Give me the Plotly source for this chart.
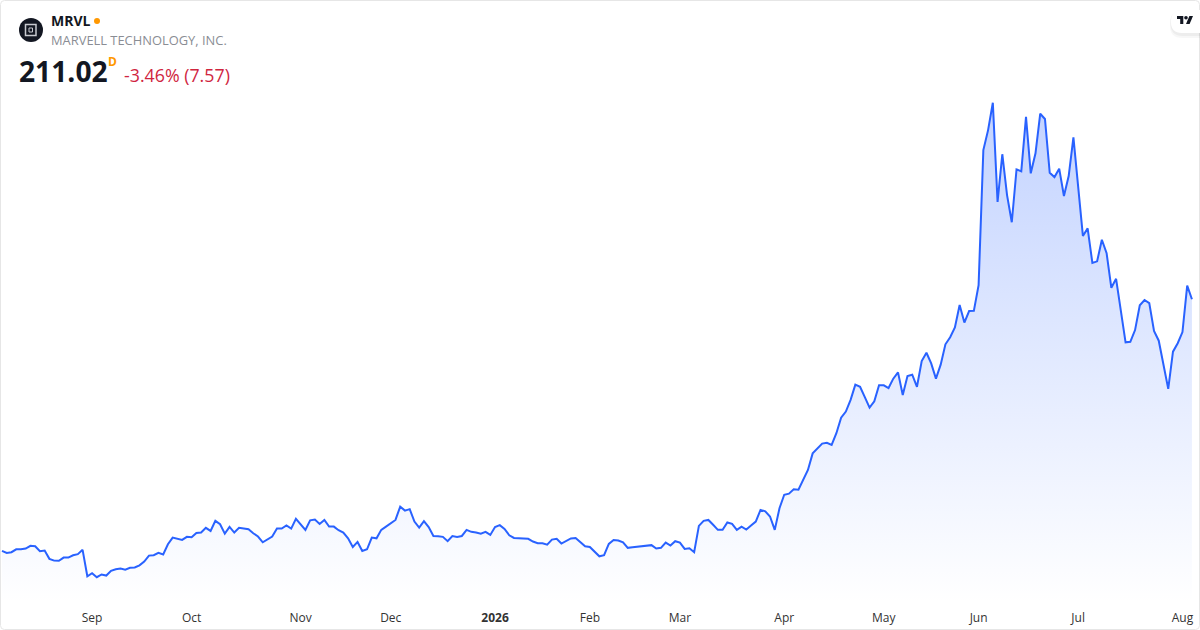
# MRVL one year area chart, trading days on the x axis
import plotly.graph_objects as go

# closing prices
prices = [
    71.2, 70.1, 70.5, 72.1, 72.1, 72.5, 74.0, 73.8, 71.0, 71.4,
    66.8, 65.8, 65.7, 67.5, 67.5, 68.8, 69.4, 71.8, 57.1, 58.8,
    56.6, 58.1, 57.5, 60.1, 61.0, 61.4, 60.8, 61.8, 62.0, 63.2,
    65.3, 68.6, 68.8, 70.1, 69.2, 74.9, 78.6, 78.1, 77.3, 79.0,
    78.8, 81.2, 81.4, 84.0, 82.3, 87.9, 86.0, 80.8, 84.5, 81.4,
    84.0, 83.6, 83.2, 81.0, 79.2, 76.0, 77.7, 79.2, 83.6, 83.6,
    85.3, 83.6, 89.0, 85.8, 82.9, 88.2, 88.6, 86.2, 88.4, 84.7,
    84.7, 82.7, 81.4, 78.2, 73.4, 76.2, 71.2, 72.1, 78.6, 78.2,
    82.9, 84.7, 86.6, 88.4, 95.8, 93.6, 94.4, 87.5, 84.2, 87.7,
    84.4, 79.5, 79.4, 79.0, 76.6, 79.5, 79.0, 79.5, 82.9, 81.8,
    81.4, 80.8, 81.8, 80.1, 84.5, 85.5, 83.4, 79.9, 78.4, 78.1,
    77.9, 77.9, 76.4, 75.5, 75.5, 74.7, 77.5, 77.9, 75.3, 76.8,
    78.1, 78.4, 76.2, 73.8, 73.4, 70.5, 68.2, 68.8, 75.1, 77.3,
    77.0, 76.0, 72.9, 73.2, 73.6, 73.8, 74.4, 74.4, 72.5, 72.9,
    75.8, 74.2, 76.6, 75.8, 72.3, 72.7, 70.5, 85.1, 87.9, 88.4,
    85.7, 82.9, 82.9, 87.0, 86.2, 82.9, 84.7, 83.1, 85.3, 87.5,
    94.0, 93.2, 90.3, 82.9, 94.9, 102.4, 103.0, 105.4, 105.2, 110.6,
    116.2, 125.4, 128.0, 130.8, 131.3, 130.1, 136.6, 145.2, 148.6, 155.1,
    163.6, 162.4, 156.6, 150.8, 154.3, 163.2, 163.2, 161.7, 166.9, 170.4,
    157.8, 168.4, 169.1, 162.4, 176.7, 181.3, 175.4, 166.9, 174.7, 186.0,
    189.9, 195.4, 207.8, 198.1, 204.5, 204.6, 218.9, 293.9, 305.0, 320.2,
    265.1, 291.6, 268.9, 253.8, 283.2, 282.1, 312.4, 281.0, 292.1, 314.1,
    311.2, 281.3, 278.9, 283.6, 268.4, 279.5, 301.0, 274.5, 246.2, 250.4,
    231.2, 232.1, 244.1, 236.6, 217.4, 222.4, 206.0, 187.1, 187.4, 193.9,
    207.7, 210.6, 208.9, 193.4, 188.0, 173.6, 161.2, 181.9, 186.6, 192.8,
    218.59, 211.02,
]
days = list(range(len(prices)))

# first trading day of each month
tick_days = [19, 40, 63, 82, 104, 124, 143, 165, 186, 206, 227, 249]
tick_labels = ["Sep", "Oct", "Nov", "Dec", "<b>2026</b>", "Feb", "Mar", "Apr", "May", "Jun", "Jul", "Aug"]

BLUE = "#2962ff"
FONT = "Open Sans"
W, H, BOTTOM = 1200, 630, 26
PLOT_H = H - BOTTOM


# helpers: window pixels to paper fractions
def px(x):
    return x / W


def py(y):
    return (PLOT_H - y) / PLOT_H


def pt(x, y):
    return f"{px(x)} {py(y)}"


def poly(points):
    return "M" + " L".join(pt(x, y) for x, y in points) + " Z"


def round_rect(x0, y0, x1, y1, r):
    return (f"M{pt(x0 + r, y0)} L{pt(x1 - r, y0)} Q{pt(x1, y0)} {pt(x1, y0 + r)} L{pt(x1, y1 - r)} "
            f"Q{pt(x1, y1)} {pt(x1 - r, y1)} L{pt(x0 + r, y1)} Q{pt(x0, y1)} {pt(x0, y1 - r)} "
            f"L{pt(x0, y0 + r)} Q{pt(x0, y0)} {pt(x0 + r, y0)} Z")


def path(d, **kw):
    return dict(type="path", xref="paper", yref="paper", path=d, **kw)


def rect(x0, y0, x1, y1, **kw):
    return dict(type="rect", xref="paper", yref="paper", x0=px(x0), y0=py(y0), x1=px(x1), y1=py(y1), **kw)


def circle(cx, cy, r, color):
    return dict(type="circle", xref="paper", yref="paper", x0=px(cx - r), y0=py(cy - r), x1=px(cx + r), y1=py(cy + r),
                fillcolor=color, line_width=0)


def label(x, y, text, size, color, **kw):
    return dict(xref="paper", yref="paper", x=px(x), y=py(y), text=text, showarrow=False, xanchor="left",
                yanchor="middle", font=dict(family=FONT, size=size, color=color), **kw)


fig = go.Figure(go.Scatter(
    x=days, y=prices, mode="lines", fill="tozeroy",
    line=dict(color=BLUE, width=2),
    fillgradient=dict(type="vertical", start=41.7, stop=320.2,
                      colorscale=[[0, "rgba(41,98,255,0)"], [1, "rgba(41,98,255,0.28)"]]),
    hoverinfo="skip",
))

shapes = [
    # outer frame
    path(round_rect(0.5, 0.5, 1199.5, 629.5, 4), line=dict(color="#e6e6e6", width=1)),
    # ticker logo
    circle(31, 30, 12, "#131722"),
    rect(25.5, 24.5, 36, 35.5, line=dict(color="#c8cad0", width=1.5)),
    rect(29, 28, 32.5, 32, line=dict(color="#c8cad0", width=1)),
    # status dot
    circle(97, 21, 3, "#ff9800"),
    # TV badge, soft shadow then pill
    path(round_rect(1170, 11, 1212, 38, 12), fillcolor="rgba(0,0,0,0.03)", line_width=0),
    path(round_rect(1170.5, 10, 1212, 36, 12), fillcolor="rgba(0,0,0,0.04)", line_width=0),
    path(round_rect(1171, 10, 1212, 33, 11), fillcolor="#ffffff", line_width=0),
    path(poly([(1177, 16), (1183.3, 16), (1183.3, 24), (1180.2, 24), (1180.2, 19.1), (1177, 19.1)]),
         fillcolor="#131722", line_width=0),
    path(poly([(1189.4, 16), (1193, 16), (1189.6, 24), (1186, 24)]), fillcolor="#131722", line_width=0),
    circle(1186, 17.8, 1.8, "#131722"),
]

annotations = [
    label(49, 20.5, "<b>MRVL</b>", 14, "#131722"),
    label(49, 40.5, "MARVELL TECHNOLOGY, INC.", 12.9, "#8a8d94"),
    label(17, 70.5, "<b>211.02</b>", 28.2, "#131722"),
    label(106, 61, "<b>D</b>", 12, "#ff9800"),
    label(122, 74.5, "-3.46% (7.57)", 17.8, "#d0263f"),
]

fig.update_layout(
    width=W, height=H,
    margin=dict(l=0, r=0, t=0, b=BOTTOM),
    paper_bgcolor="#ffffff", plot_bgcolor="#ffffff",
    showlegend=False,
    shapes=shapes,
    annotations=annotations,
    xaxis=dict(range=[-0.42, 252.7], tickmode="array", tickvals=tick_days, ticktext=tick_labels,
               showgrid=False, zeroline=False, showline=False, ticks="", ticklabelstandoff=5,
               tickfont=dict(family=FONT, size=12, color="#333333")),
    yaxis=dict(range=[41.7, 377.3], visible=False),
)

# the default page keeps a body margin, drop it so the chart fills the window
fig.write_html("out.html", config=dict(displayModeBar=False), post_script="document.body.style.margin='0';")
